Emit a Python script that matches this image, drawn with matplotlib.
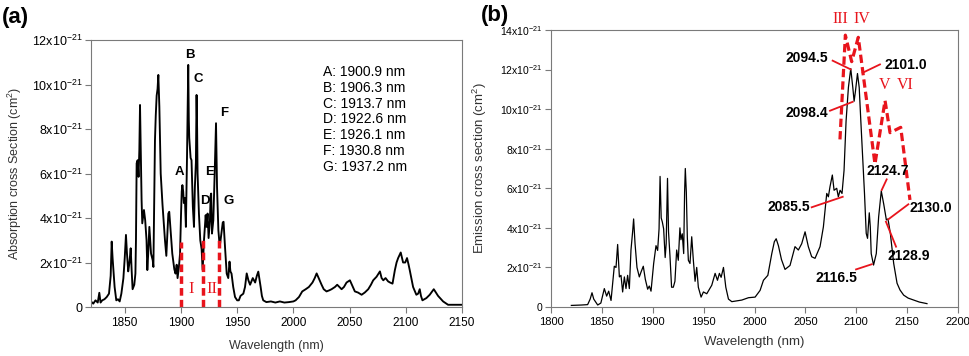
import matplotlib
matplotlib.use("Agg")
import matplotlib.pyplot as plt
from matplotlib.ticker import FuncFormatter

plt.rcParams['font.family'] = ['Liberation Sans', 'DejaVu Sans']
plt.rcParams['mathtext.fontset'] = 'custom'
plt.rcParams['mathtext.rm'] = 'Liberation Sans'
plt.rcParams['mathtext.it'] = 'Liberation Sans:italic'
plt.rcParams['mathtext.bf'] = 'Liberation Sans:bold'

# ---------------- data (cross sections in units of 1e-21 cm^2) ----------------
abs_wl = [1820, 1822, 1824, 1826, 1827.4, 1828.5, 1830, 1832, 1834, 1836, 1837.5, 1838.4, 1839.2, 1839.9,
          1841, 1842.5, 1844, 1845.5, 1847, 1848.8, 1850, 1851.1, 1852, 1853.1, 1854.2, 1855.3, 1856.2, 1857,
          1858.5, 1859.5, 1860, 1860.6, 1861.5, 1862.3, 1863, 1863.6, 1864.3, 1865.0, 1865.6, 1867.1, 1868.2,
          1869.4, 1870.1, 1871.0, 1871.9, 1873.4, 1874.9, 1875.5, 1876.0, 1876.9, 1877.6, 1878.4, 1879.2, 1879.9,
          1880.8, 1882.0, 1883.6, 1885.0, 1885.8, 1887.0, 1888.8, 1889.6, 1891.0, 1892.3, 1894.1, 1895.2,
          1896.2, 1897.0, 1898.2, 1899.2, 1900.1, 1900.7, 1901.3, 1902.0, 1902.6, 1903.5, 1904.4, 1905.4,
          1906.0, 1906.5, 1907.0, 1907.4, 1908.6, 1909.4, 1910.6, 1911.6, 1912.4, 1913.3, 1913.9, 1914.4,
          1914.8, 1916.0, 1917.2, 1918.4, 1919.3, 1920.5, 1922.0, 1922.8, 1923.7, 1924.6, 1925.8, 1926.4,
          1926.9, 1927.6, 1928.8, 1930.0, 1930.7, 1931.2, 1932.1, 1933.3, 1934.5, 1936.3, 1937.2, 1937.9,
          1939.2, 1940.7, 1942.1, 1943.2, 1944.0, 1945.0, 1946.5, 1948.1, 1950.0, 1951.5, 1953.0, 1955.5,
          1957.0, 1958.5, 1960.0, 1961.5, 1963.9, 1966.0, 1967.5, 1968.8, 1970.0, 1970.9, 1972.0, 1973.2,
          1976, 1980, 1984, 1988, 1992, 1996, 2000, 2002, 2005, 2007.9, 2011, 2013.8, 2017, 2019, 2020.7,
          2022.5, 2025.1, 2027, 2029.5, 2032, 2034, 2037, 2039, 2042.9, 2045, 2047.3, 2050.3, 2052.5, 2054.7,
          2057.5, 2060.7, 2063.5, 2066.6, 2069, 2071, 2074, 2077, 2078.5, 2080, 2082, 2084.3, 2086, 2088.2,
          2090.3, 2091.8, 2093.2, 2095.5, 2097.6, 2099.5, 2101.1, 2102.5, 2103.5, 2106.5, 2109.4, 2111,
          2112.4, 2113.5, 2114.8, 2118.3, 2121.3, 2124.9, 2126.8, 2128.7, 2133.2, 2137.6, 2143, 2150]
abs_val = [0.25, 0.15, 0.3, 0.2, 0.64, 0.2, 0.3, 0.35, 0.45, 0.6, 1.4, 2.94, 2.2, 1.7,
           0.9, 0.3, 0.35, 0.25, 0.6, 1.29, 2.2, 3.24, 2.4, 1.6, 2.0, 2.64, 1.6, 0.8,
           1.0, 1.5, 3.0, 6.46, 6.6, 5.85, 7.06, 9.08, 6.9, 4.8, 3.76, 4.36, 3.9,
           3.0, 1.66, 2.5, 3.6, 2.4, 2.1, 1.8, 3.8, 7.5, 8.6, 9.5, 9.8, 10.43,
           9.0, 6.0, 4.6, 3.6, 3.0, 2.3, 4.2, 4.28, 3.3, 2.4, 1.7, 1.5,
           1.9, 1.3, 1.8, 2.4, 4.2, 5.2, 5.48, 5.2, 4.67, 4.9, 3.6, 6.75,
           9.0, 10.88, 8.4, 7.6, 6.7, 6.6, 4.5, 3.6, 5.4, 6.5, 9.53, 8.0,
           6.0, 4.2, 3.0, 2.6, 1.66, 3.0, 4.13, 3.6, 4.2, 3.1, 3.9, 5.0,
           5.1, 3.3, 3.9, 6.0, 7.4, 8.26, 5.4, 3.45, 2.7, 3.45, 3.8, 3.83,
           2.7, 1.5, 1.3, 2.04, 1.6, 1.5, 0.9, 0.45, 0.3, 0.3, 0.5, 0.6,
           0.9, 1.51, 1.2, 1.0, 1.3, 1.1, 1.4, 1.59, 1.2, 0.9, 0.5, 0.3,
           0.22, 0.25, 0.2, 0.25, 0.2, 0.22, 0.25, 0.3, 0.45, 0.7, 0.8, 0.9, 1.1, 1.3, 1.51,
           1.3, 1.0, 0.8, 0.7, 0.75, 0.8, 0.9, 1.0, 0.8, 0.9, 1.1, 1.2, 0.95, 0.7,
           0.65, 0.55, 0.65, 0.8, 1.0, 1.2, 1.36, 1.6, 1.3, 1.2, 1.3, 1.15, 1.1, 1.05,
           1.66, 2.0, 2.2, 2.45, 2.0, 2.0, 2.2, 1.9, 1.66, 0.9, 0.55, 0.6,
           0.8, 0.5, 0.3, 0.4, 0.55, 0.8, 0.65, 0.5, 0.25, 0.1, 0.1, 0.1]

em_wl = [1820, 1830, 1836, 1838.5, 1840.3, 1842, 1845.9, 1849, 1852.4, 1854.7, 1856.7, 1859, 1862.2,
         1863.9, 1865.5, 1867.2, 1868.8, 1870.4, 1872.1, 1873.7, 1875.3, 1877.0, 1878.6, 1880.3, 1881.2,
         1882.6, 1884.5, 1886.8, 1888.5, 1890.7, 1892.7, 1895.0, 1896.6, 1898.3, 1900.9, 1903.2, 1904.8,
         1906.2, 1907.2, 1908.3, 1909.4, 1910.7, 1912.2, 1913.2, 1914.5, 1915.5, 1916.9, 1918.5, 1920.2,
         1921.8, 1923.5, 1925.1, 1926.7, 1927.7, 1929.0, 1930.4, 1931.3, 1932.0, 1933.0, 1934.0, 1935.0,
         1936.6, 1938.3, 1939.9, 1941.6, 1943.2, 1944.8, 1947.5, 1949.8, 1953.1, 1958.0, 1961.3, 1963.6,
         1965.5, 1967.2, 1969.5, 1971.8, 1974.4, 1977.7, 1987.5, 1994.1, 2000.6, 2005.5, 2008.8, 2013.1,
         2017.0, 2019.5, 2021.3, 2023.5, 2026.5, 2030.0, 2034.9, 2039.8, 2043.1, 2046.4, 2049.7, 2052.9,
         2056.2, 2059.5, 2064.4, 2067.7, 2071.0, 2072.6, 2074.2, 2076.5, 2078.2, 2080.8, 2082.4, 2084.1,
         2086.0, 2088.0, 2090.0, 2092.3, 2094.6, 2096.6, 2097.9, 2099.2, 2101.2, 2102.9, 2104.5, 2106.5,
         2108.1, 2109.8, 2111.1, 2112.8, 2113.8, 2114.7, 2117.0, 2119.7, 2122.0, 2124.6, 2127.0, 2129.6,
         2131.2, 2133.5, 2136.8, 2140.1, 2143.0, 2146.6, 2151.0, 2156.4, 2162.0, 2169.5]
em_val = [0.08, 0.1, 0.12, 0.4, 0.72, 0.4, 0.1, 0.2, 0.93, 0.55, 0.8, 0.33, 2.06,
          2.0, 3.16, 1.52, 1.6, 0.76, 1.52, 0.93, 1.6, 0.93, 2.88, 3.85, 4.45,
          3.2, 2.0, 1.52, 1.77, 2.06, 1.4, 0.9, 1.06, 0.8, 2.2, 3.1, 2.86,
          3.95, 6.6, 4.5, 4.3, 3.95, 2.5, 3.2, 6.5, 3.8, 2.6, 1.0, 1.0,
          1.3, 2.88, 2.36, 4.0, 3.4, 3.7, 2.7, 5.8, 7.0, 5.8, 3.5, 2.36,
          2.2, 3.55, 2.36, 1.3, 2.0, 1.0, 0.5, 0.76, 0.67, 1.1, 1.7, 1.35,
          1.7, 1.5, 2.0, 1.0, 0.4, 0.27, 0.35, 0.47, 0.5, 0.84, 1.35, 1.6,
          2.7, 3.3, 3.45, 3.1, 2.4, 1.9, 2.1, 3.05, 2.88, 3.2, 3.8, 3.05,
          2.54, 2.46, 3.05, 4.05, 5.74, 5.57, 6.08, 6.67, 5.9, 6.0, 5.57, 5.9,
          5.74, 6.9, 9.4, 11.1, 12.05, 11.1, 10.4, 10.9, 11.8, 11.1, 9.4, 7.4,
          5.74, 3.72, 3.47, 4.76, 4.05, 2.7, 2.12, 2.7, 4.55, 5.86, 5.2, 4.4,
          4.45, 3.72, 2.2, 1.2, 0.86, 0.6, 0.45, 0.35, 0.25, 0.17]

# absorption panel annotations
peak_letters = ['A', 'B', 'C', 'D', 'E', 'F', 'G']
peak_wl = ['1900.9', '1906.3', '1913.7', '1922.6', '1926.1', '1930.8', '1937.2']
region_lines_a = [1900.1, 1919.6, 1934.1]
region_heights_a = [2.94, 3.07, 3.07]
region_labels_a = ['I', 'II']

# emission panel annotations
em_labels = ['2094.5', '2101.0', '2098.4', '2085.5', '2124.7', '2130.0', '2128.9', '2116.5']
envelope_wl = [2084.0, 2089.3, 2095.5, 2102.0, 2118.4, 2128.3, 2133.2, 2143.7, 2152.8]
envelope_val = [8.47, 13.74, 12.4, 13.63, 7.23, 10.43, 8.81, 9.08, 5.41]
region_labels_b = ['III', 'IV', 'V', 'VI']

# ---------------- figure ----------------
W, H = 969, 356
fig = plt.figure(figsize=(W / 100, H / 100), dpi=100)


def ax_rect(l, t, r, b):
    return [l / W, 1 - b / H, (r - l) / W, (b - t) / H]


def fmt(v, pos):
    if abs(v) < 1e-9:
        return '0'
    return '%dx10$^{-21}$' % int(round(v))


spine_c = '#7a7a7a'
red = '#e8141c'

# ---- panel (a)
ax1 = fig.add_axes(ax_rect(91, 40, 462, 307))
ax1.plot(abs_wl, abs_val, color='black', lw=1.35)
ax1.set_xlim(1820, 2150)
ax1.set_ylim(0, 12)
ax1.set_xticks([1850, 1900, 1950, 2000, 2050, 2100, 2150])
ax1.set_yticks([0, 2, 4, 6, 8, 10, 12])
ax1.yaxis.set_major_formatter(FuncFormatter(fmt))
ax1.tick_params(axis='x', labelsize=8.5, direction='out', length=4, color=spine_c, pad=3)
ax1.tick_params(axis='y', labelsize=9, direction='out', length=4, color=spine_c, pad=2)
for s in ax1.spines.values():
    s.set_color(spine_c)
ax1.set_xlabel('Wavelength (nm)', fontsize=9, color='#333333', labelpad=8)
ax1.set_ylabel('Absorption cross Section (cm$^2$)', fontsize=9, color='#333333', labelpad=6)

letter_pos = [(1898.3, 6.08), (1908.1, 11.33), (1915.5, 10.23), (1921.1, 4.76),
              (1925.9, 6.08), (1938.6, 8.73), (1942.1, 4.76)]
for lab, (x, y) in zip(peak_letters, letter_pos):
    ax1.text(x, y, lab, fontsize=9.5, fontweight='bold', ha='center', va='center')
for i, (lab, wl) in enumerate(zip(peak_letters, peak_wl)):
    ax1.text(2026.1, 10.55 - i * 0.706, '%s: %s nm' % (lab, wl), fontsize=10,
             ha='left', va='center')
for x, h in zip(region_lines_a, region_heights_a):
    ax1.plot([x, x], [0, h], color=red, lw=2.5, ls=(0, (2.2, 1.2)), clip_on=False)
for lab, x in zip(region_labels_a, [1908.7, 1927.3]):
    ax1.text(x, 0.8, lab, color=red, fontsize=12, family='Liberation Serif',
             ha='center', va='center')

# ---- panel (b)
ax2 = fig.add_axes(ax_rect(551, 30, 958, 307))
ax2.plot(em_wl, em_val, color='black', lw=0.9)
ax2.set_xlim(1800, 2200)
ax2.set_ylim(0, 14)
ax2.set_xticks(list(range(1800, 2201, 50)))
ax2.set_yticks([0, 2, 4, 6, 8, 10, 12, 14])
ax2.yaxis.set_major_formatter(FuncFormatter(fmt))
ax2.tick_params(axis='x', labelsize=8, direction='out', length=4, color=spine_c, pad=3)
ax2.tick_params(axis='y', labelsize=7.5, direction='out', length=4, color=spine_c, pad=2)
for s in ax2.spines.values():
    s.set_color(spine_c)
ax2.set_xlabel('Wavelength (nm)', fontsize=9.5, color='#333333', labelpad=7)
ax2.set_ylabel('Emission cross section (cm$^2$)', fontsize=9.5, color='#333333', labelpad=8)

ax2.plot(envelope_wl, envelope_val, color=red, lw=2.3, ls=(0, (2.6, 1.3)), clip_on=False)

em_text = [(2072.2, 12.58, 'right'), (2127.3, 12.23, 'left'), (2072.2, 9.82, 'right'),
           (2054.6, 5.04, 'right'), (2131.2, 6.89, 'center'), (2152.8, 4.99, 'left'),
           (2130.5, 2.59, 'left'), (2059.5, 1.48, 'left')]
em_lines = [((2076.8, 12.45), (2094.5, 12.01)), ((2106.3, 11.84), (2123.3, 12.26)),
            ((2074.2, 9.92), (2096.5, 10.37)), ((2056.2, 5.04), (2086.7, 5.57)),
            ((2129.9, 6.45), (2125.0, 5.91)), ((2151.2, 5.19), (2131.5, 4.43)),
            ((2129.2, 4.31), (2139.1, 3.05)), ((2099.8, 1.90), (2115.2, 2.16))]
for lab, (x, y, ha), (p0, p1) in zip(em_labels, em_text, em_lines):
    ax2.text(x, y, lab, fontsize=10, fontweight='bold', ha=ha, va='center')
    ax2.plot([p0[0], p1[0]], [p0[1], p1[1]], color=red, lw=1.3)

rn_pos = [(2084.7, 14.55), (2105.4, 14.55), (2128.3, 11.2), (2147.9, 11.2)]
for lab, (x, y) in zip(region_labels_b, rn_pos):
    ax2.text(x, y, lab, color=red, fontsize=11.5, family='Liberation Serif',
             ha='center', va='center', clip_on=False)

fig.text(2 / W, 1 - 17 / H, '(a)', fontsize=16, fontweight='bold', ha='left', va='center')
fig.text(481 / W, 1 - 15 / H, '(b)', fontsize=16, fontweight='bold', ha='left', va='center')

fig.savefig('out.png', dpi=100)
